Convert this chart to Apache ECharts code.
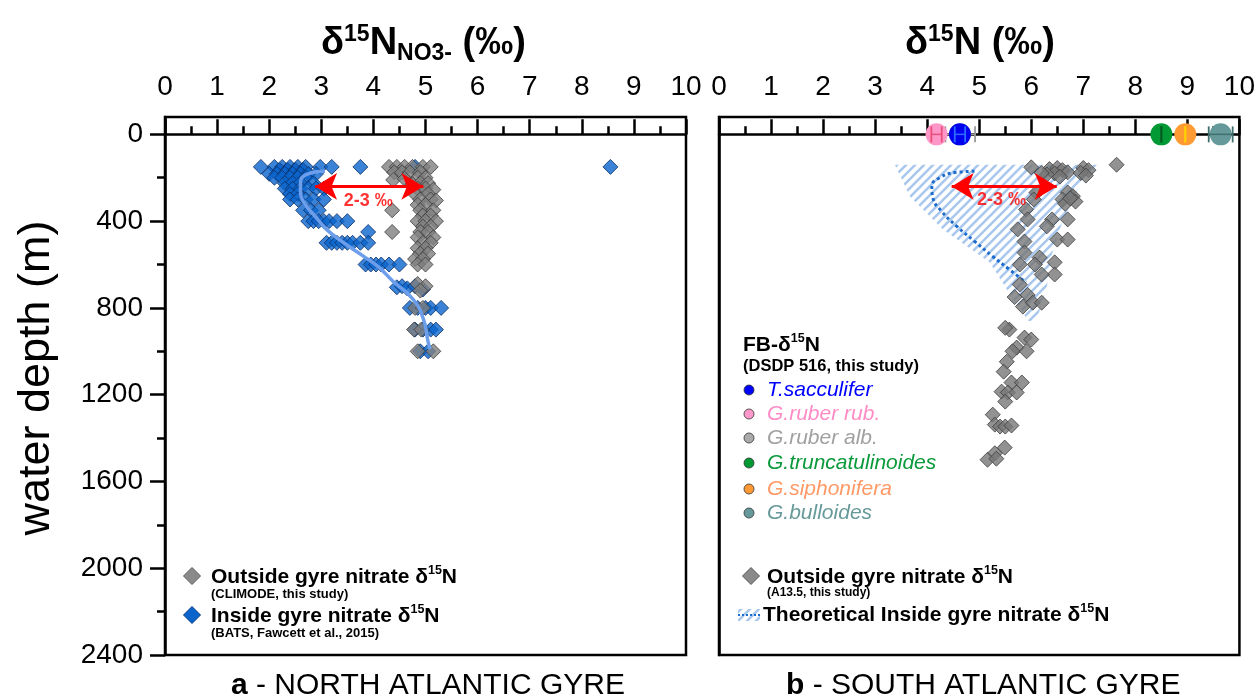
<!DOCTYPE html>
<html><head><meta charset="utf-8">
<script src="https://cdn.jsdelivr.net/npm/echarts@6/dist/echarts.min.js"></script>
<style>html,body{margin:0;padding:0;background:#fff}#c{width:1258px;height:699px}</style>
</head><body><div id="c"></div>
<script>
const FAM = '"Liberation Sans", Arial, sans-serif';
function f(size, weight, style) { return (style || 'normal') + ' ' + (weight || 'normal') + ' ' + size + 'px ' + FAM; }

// ---------- axis ticks ----------
const depthMajor = [0, 400, 800, 1200, 1600, 2000, 2400];
const depthMinor = [200, 600, 1000, 1400, 1800, 2200];
const depthMin = -80, depthMax = 2400;

// ---------- panel a : North Atlantic (value, depth) ----------
const insideGyreA = [
  [1.84,150],[2.1,150],[2.25,150],[2.4,150],[2.55,150],[2.7,150],[2.98,150],[3.2,150],[3.75,150],[4.8,150],[8.55,150],
  [2.2,165],[2.35,165],[2.5,165],[2.65,165],
  [2.0,182],[2.15,182],[2.3,182],[2.45,182],[2.6,182],[2.75,182],[2.9,182],
  [2.1,200],[2.25,200],[2.4,200],[2.55,200],[2.7,200],
  [2.3,225],[2.45,225],[2.6,225],[2.85,225],
  [2.3,250],[2.45,250],[2.6,250],[2.75,250],[2.9,250],[3.05,250],
  [2.4,275],[2.55,275],
  [2.4,300],[2.55,300],[2.7,300],[2.85,300],[3.05,300],
  [2.65,350],[2.8,350],[2.95,350],
  [2.75,400],[2.85,400],[2.95,400],[3.05,400],[3.15,400],[3.3,400],[3.5,400],
  [3.9,450],
  [3.1,500],[3.2,500],[3.3,500],[3.4,500],[3.5,500],[3.6,500],[3.75,500],[3.9,500],
  [3.85,600],[3.95,600],[4.05,600],[4.15,600],[4.3,600],[4.5,600],
  [4.45,705],[4.55,700],[4.65,710],[4.8,700],[4.95,715],
  [4.7,800],[4.85,800],[5.0,800],[5.1,800],[5.3,800],
  [4.8,900],[4.95,900],[5.1,900],[5.2,900],
  [4.9,1000],[5.05,1000]
];
const outsideGyreA = [
  [4.3,150],[4.45,150],[4.6,150],[4.75,150],[4.95,150],[5.1,150],
  [4.4,175],[4.55,175],[4.7,175],[4.9,175],
  [4.38,210],[4.6,205],[4.85,200],[5.0,200],
  [4.75,230],[4.9,225],[5.05,225],
  [4.85,250],[5.0,250],[5.15,255],
  [4.8,275],[5.05,275],
  [4.9,300],[5.1,300],[5.2,305],
  [4.85,325],[5.0,325],
  [4.36,350],[4.9,350],[5.15,350],
  [4.95,375],[5.1,375],
  [4.85,400],[5.0,400],[5.2,400],
  [4.95,425],[5.1,425],
  [4.36,450],[4.9,450],[5.05,450],
  [4.85,475],[5.15,475],
  [4.95,500],[5.1,500],
  [4.85,525],[5.0,525],
  [4.9,550],[5.05,550],
  [4.8,575],[4.95,575],
  [4.85,600],[5.0,600],
  [4.85,690],[5.0,700],[4.9,720],
  [4.8,800],[4.95,800],
  [4.78,900],[4.92,900],
  [4.85,1000],[5.15,1000]
];
const insideFitA = [[3.07,170],[2.72,184],[2.6,222],[2.6,267],[2.69,323],[2.88,377],[3.1,438],[3.42,498],[3.8,560],[4.1,612],[4.38,678],[4.76,760],[4.96,852],[5.05,957],[5.09,990]];
const arrowA = [[2.88,240],[4.96,240]];
const arrowLabelA = [[3.9,308]];

// ---------- panel b : South Atlantic (value, depth) ----------
const outsideGyreB = [
  [6.0,152],[6.35,160],[6.5,155],[6.6,165],[6.45,180],[6.7,175],[6.3,185],[6.2,178],[6.55,195],
  [7.0,155],[7.1,165],[6.95,178],[7.05,190],[7.64,140],
  [6.1,268],[6.05,300],[6.7,268],[6.6,300],[6.8,285],[6.65,320],[6.85,310],[6.75,295],
  [5.9,346],[5.93,392],[5.74,438],[6.4,392],[6.3,424],[6.7,392],[6.5,485],[6.7,485],
  [5.87,494],[5.87,545],[6.16,568],[6.07,600],[6.45,590],[6.45,646],[6.2,646],[5.78,600],[5.78,692],
  [5.68,750],[5.93,740],[5.84,794],[6.03,776],[6.2,776],
  [5.58,900],[5.5,892],[5.87,937],[6.0,946],[5.72,983],[5.64,1000],[5.91,1000],
  [5.53,1048],[5.47,1094],[5.62,1144],[5.82,1144],[5.43,1186],[5.55,1190],[5.72,1190],[5.5,1232],
  [5.26,1292],[5.3,1338],[5.4,1347],[5.5,1347],[5.62,1342],[5.49,1444],[5.3,1470],[5.16,1500],[5.33,1495]
];
const theoreticalLineB = [[4.91,170],[4.57,175],[4.24,200],[4.09,240],[4.11,292],[4.28,355],[4.57,424],[4.91,493],[5.26,563],[5.58,623],[5.9,683]];
const theoreticalAreaB = [[3.38,140],[7.35,140],[6.9,250],[6.6,400],[6.4,550],[6.3,700],[6.1,860],[5.95,860],[5.6,740],[5.2,590],[4.3,438],[3.67,286]];
const arrowB = [[4.47,240],[6.49,240]];
const arrowLabelB = [[5.43,305]];

// foraminifera-bound d15N (drawn in this order)
const foramNames  = ['G.ruber alb.','G.ruber rub.','T.sacculifer','G.truncatulinoides','G.siphonifera','G.bulloides'];
const foramValue  = [4.63, 4.18, 4.63, 8.5, 8.96, 9.64];
const foramLow    = [4.35, 4.08, 4.53, 8.5, 8.96, 9.41];
const foramHigh   = [4.92, 4.28, 4.73, 8.5, 8.96, 9.87];
const foramDepth  = [0, 0, 0, 0, 0, 0];
const foramFill   = ['#a9a9a9','#ff96c8','#0000f0','#009933','#ff9a33','#669999'];
const foramBar    = ['#9a9a9a','#e8507a','#2a6cff','#005c22','#ffd200','#3f6f6f'];

// legend list (panel b)
const legendForams = ['T.sacculifer','G.ruber rub.','G.ruber alb.','G.truncatulinoides','G.siphonifera','G.bulloides'];
const legendDot    = ['#0000ff','#ff99cc','#aaaaaa','#009933','#ff9933','#669999'];
const legendText   = ['#0000ff','#ff8cc6','#a0a0a0','#0a9a3a','#ff9966','#669999'];

// ---------- hatch pattern ----------
function makeHatch() {
  const c = document.createElement('canvas'); c.width = 9; c.height = 9;
  const g = c.getContext('2d');
  g.strokeStyle = '#a9c8ee'; g.lineWidth = 2.6; g.beginPath();
  g.moveTo(-2, 11); g.lineTo(11, -2);
  g.moveTo(-2, 2); g.lineTo(2, -2);
  g.moveTo(7, 11); g.lineTo(11, 7);
  g.stroke();
  return c;
}
const hatchImg = makeHatch();

const chart = echarts.init(document.getElementById('c'));

const xAxisBase = (gi) => ({
  type: 'value', gridIndex: gi, position: 'top', min: 0, max: 10, interval: 1,
  axisLine: { show: true, lineStyle: { color: '#000', width: 2.5 } },
  axisTick: { show: true, inside: false, length: 15, lineStyle: { color: '#000', width: 2.5 } },
  minorTick: { show: true, splitNumber: 2, length: 8, lineStyle: { color: '#000', width: 2.5 } },
  splitLine: { show: false }, minorSplitLine: { show: false },
  axisLabel: { show: true, fontSize: 28, fontFamily: FAM, color: '#000', margin: 16 }
});

const graphics = [];
// titles
const titleRich = {
  m: { font: f(38, 'bold'), lineHeight: 42, fill: '#000' },
  p: { font: f(23, 'bold'), lineHeight: 32, verticalAlign: 'top', fill: '#000' },
  s: { font: f(23, 'bold'), lineHeight: 24, verticalAlign: 'bottom', fill: '#000' }
};
graphics.push({ type: 'text', x: 321, y: 23, z: 100, style: { text: '{m|δ}{p|15}{m|N}{s|NO3-}{m| (‰)}', rich: titleRich, align: 'left', verticalAlign: 'top' } });
graphics.push({ type: 'text', x: 905, y: 23, z: 100, style: { text: '{m|δ}{p|15}{m|N (‰)}', rich: titleRich, align: 'left', verticalAlign: 'top' } });
// y title
graphics.push({ type: 'text', x: 37, y: 378, rotation: Math.PI / 2, z: 100, style: { text: 'water depth (m)', font: f(45), fill: '#000', align: 'center', verticalAlign: 'middle' } });
// captions
const capRich = { b: { font: f(30, 'bold'), fill: '#000', lineHeight: 34 }, r: { font: f(30), fill: '#000', lineHeight: 34 } };
graphics.push({ type: 'text', x: 231, y: 686, z: 100, style: { text: '{b|a}{r| - NORTH ATLANTIC GYRE}', rich: capRich, align: 'left', verticalAlign: 'middle' } });
graphics.push({ type: 'text', x: 786, y: 686, z: 100, style: { text: '{b|b}{r| - SOUTH ATLANTIC GYRE}', rich: capRich, align: 'left', verticalAlign: 'middle' } });

// legend helpers
const legRich = {
  m: { font: f(21, 'bold'), lineHeight: 25, fill: '#000' },
  p: { font: f(12.5, 'bold'), lineHeight: 17, verticalAlign: 'top', fill: '#000' }
};
function diamond(cx, cy, s, fill, stroke) {
  graphics.push({ type: 'polygon', z: 100, shape: { points: [[cx, cy - s / 2], [cx + s / 2, cy], [cx, cy + s / 2], [cx - s / 2, cy]] }, style: { fill: fill, stroke: stroke, lineWidth: 1 } });
}
// legend a
diamond(192, 576, 17, '#8a8a8a', '#5a5a5a');
graphics.push({ type: 'text', x: 211, y: 577, z: 100, style: { text: '{m|Outside gyre nitrate δ}{p|15}{m|N}', rich: legRich, verticalAlign: 'middle' } });
graphics.push({ type: 'text', x: 211, y: 594, z: 100, style: { text: '(CLIMODE, this study)', font: f(13, 'bold'), fill: '#000', verticalAlign: 'middle' } });
diamond(192, 615, 17, '#0a64cc', '#0a3a80');
graphics.push({ type: 'text', x: 211, y: 616, z: 100, style: { text: '{m|Inside gyre nitrate δ}{p|15}{m|N}', rich: legRich, verticalAlign: 'middle' } });
graphics.push({ type: 'text', x: 211, y: 633, z: 100, style: { text: '(BATS, Fawcett et al., 2015)', font: f(13, 'bold'), fill: '#000', verticalAlign: 'middle' } });

// legend b (forams)
graphics.push({ type: 'text', x: 743, y: 345, z: 100, style: { text: '{m|FB-δ}{p|15}{m|N}', rich: legRich, verticalAlign: 'middle' } });
graphics.push({ type: 'text', x: 743, y: 366, z: 100, style: { text: '(DSDP 516, this study)', font: f(16.5, 'bold'), fill: '#000', verticalAlign: 'middle' } });
const legY = [390, 414, 438, 463, 489, 513];
legendForams.forEach(function (n, i) {
  graphics.push({ type: 'circle', z: 100, shape: { cx: 749, cy: legY[i], r: 5 }, style: { fill: legendDot[i], stroke: '#333', lineWidth: 0.8 } });
  graphics.push({ type: 'text', x: 767, y: legY[i], z: 100, style: { text: n, font: f(21, 'normal', 'italic'), fill: legendText[i], verticalAlign: 'middle' } });
});
// legend b bottom
diamond(751, 576, 17, '#8a8a8a', '#5a5a5a');
graphics.push({ type: 'text', x: 767, y: 577, z: 100, style: { text: '{m|Outside gyre nitrate δ}{p|15}{m|N}', rich: legRich, verticalAlign: 'middle' } });
graphics.push({ type: 'text', x: 767, y: 593, z: 100, style: { text: '(A13.5, this study)', font: f(12, 'bold'), fill: '#000', verticalAlign: 'middle' } });
graphics.push({ type: 'rect', z: 100, shape: { x: 738, y: 609, width: 22, height: 12 }, style: { fill: { image: hatchImg, repeat: 'repeat' } } });
graphics.push({ type: 'line', z: 101, shape: { x1: 738, y1: 615, x2: 760, y2: 615 }, style: { stroke: '#1b6ccc', lineWidth: 2, lineDash: [2, 2] } });
graphics.push({ type: 'text', x: 763, y: 615, z: 100, style: { text: '{m|Theoretical Inside gyre nitrate δ}{p|15}{m|N}', rich: legRich, verticalAlign: 'middle' } });

function arrowSeries(xi, yi, label, line) {
  return {
    type: 'scatter', xAxisIndex: xi, yAxisIndex: yi, data: label, symbolSize: 0, z: 20,
    label: { show: true, position: 'inside', formatter: '2-3 ‰', color: '#ff0000', fontFamily: FAM, fontWeight: 'bold', fontSize: 18 },
    markLine: {
      silent: true, symbol: ['arrow', 'arrow'], symbolSize: [20, 22], label: { show: false },
      lineStyle: { color: '#ff0000', width: 3, type: 'solid' },
      data: [[{ coord: line[0] }, { coord: line[1] }]]
    }
  };
}

const option = {
  animation: false,
  backgroundColor: '#fff',
  grid: [
    { left: 165, top: 117, width: 521, height: 538, show: true, borderColor: '#000', borderWidth: 2.5, backgroundColor: 'transparent' },
    { left: 719, top: 117, width: 521, height: 538, show: true, borderColor: '#000', borderWidth: 2.5, backgroundColor: 'transparent' }
  ],
  xAxis: [xAxisBase(0), xAxisBase(1)],
  yAxis: [
    { type: 'value', gridIndex: 0, inverse: true, min: depthMin, max: depthMax,
      axisLine: { show: true, lineStyle: { color: '#000', width: 2.5 } },
      axisTick: { show: true, inside: false, length: 15, customValues: depthMajor, lineStyle: { color: '#000', width: 2.5 } },
      axisLabel: { show: true, customValues: depthMajor, formatter: function (v) { return String(v); }, fontSize: 28, fontFamily: FAM, color: '#000', margin: 22 },
      splitLine: { show: false } },
    { type: 'value', gridIndex: 0, inverse: true, min: depthMin, max: depthMax, position: 'left',
      axisLine: { show: false },
      axisTick: { show: true, inside: false, length: 8, customValues: depthMinor, lineStyle: { color: '#000', width: 2.5 } },
      axisLabel: { show: false }, splitLine: { show: false } },
    { type: 'value', gridIndex: 1, inverse: true, min: depthMin, max: depthMax,
      axisLine: { show: true, lineStyle: { color: '#000', width: 2.5 } },
      axisTick: { show: false }, axisLabel: { show: false }, splitLine: { show: false } }
  ],
  graphic: graphics,
  series: [
    { name: 'Inside gyre nitrate', type: 'scatter', xAxisIndex: 0, yAxisIndex: 0, data: insideGyreA,
      symbol: 'diamond', symbolSize: 15, itemStyle: { color: '#0a64cc', borderColor: '#0b2f66', borderWidth: 1 }, z: 3 },
    { name: 'Outside gyre nitrate', type: 'scatter', xAxisIndex: 0, yAxisIndex: 0, data: outsideGyreA,
      symbol: 'diamond', symbolSize: 15, itemStyle: { color: '#808080', borderColor: '#3c3c3c', borderWidth: 1 }, z: 4 },
    { name: 'Inside fit', type: 'line', xAxisIndex: 0, yAxisIndex: 0, data: insideFitA, smooth: 0.5, showSymbol: false,
      lineStyle: { color: '#6d9eeb', width: 3.5 }, z: 5 },
    arrowSeries(0, 0, arrowLabelA, arrowA),
    { name: 'Theoretical area', type: 'custom', xAxisIndex: 1, yAxisIndex: 2, data: [[5, 500]], z: 2,
      renderItem: function (params, api) {
        const pts = theoreticalAreaB.map(function (p) { return api.coord(p); });
        return { type: 'polygon', shape: { points: pts }, style: { fill: { image: hatchImg, repeat: 'repeat' } } };
      } },
    { name: 'Theoretical inside', type: 'line', xAxisIndex: 1, yAxisIndex: 2, data: theoreticalLineB, smooth: 0.5, showSymbol: false,
      lineStyle: { color: '#1b6ccc', width: 3, type: 'dotted' }, z: 3 },
    { name: 'Outside gyre B', type: 'scatter', xAxisIndex: 1, yAxisIndex: 2, data: outsideGyreB,
      symbol: 'diamond', symbolSize: 15, itemStyle: { color: '#777777', borderColor: '#3c3c3c', borderWidth: 1 }, z: 4 },
    { name: 'Forams', type: 'custom', xAxisIndex: 1, yAxisIndex: 2, z: 6,
      data: foramValue.map(function (v, i) { return [v, foramDepth[i], foramLow[i], foramHigh[i], i]; }),
      renderItem: function (params, api) {
        const i = api.value(4);
        const c = api.coord([api.value(0), api.value(1)]);
        const lo = api.coord([api.value(2), api.value(1)]);
        const hi = api.coord([api.value(3), api.value(1)]);
        const h = 8;
        return { type: 'group', children: [
          { type: 'circle', shape: { cx: c[0], cy: c[1], r: 11 }, style: { fill: foramFill[i] } },
          { type: 'line', shape: { x1: lo[0], y1: c[1], x2: hi[0], y2: c[1] }, style: { stroke: foramBar[i], lineWidth: 1.5 } },
          { type: 'line', shape: { x1: lo[0], y1: c[1] - h, x2: lo[0], y2: c[1] + h }, style: { stroke: foramBar[i], lineWidth: 1.8 } },
          { type: 'line', shape: { x1: hi[0], y1: c[1] - h, x2: hi[0], y2: c[1] + h }, style: { stroke: foramBar[i], lineWidth: 1.8 } }
        ] };
      } },
    arrowSeries(1, 2, arrowLabelB, arrowB)
  ]
};
chart.setOption(option);
</script>
</body></html>
